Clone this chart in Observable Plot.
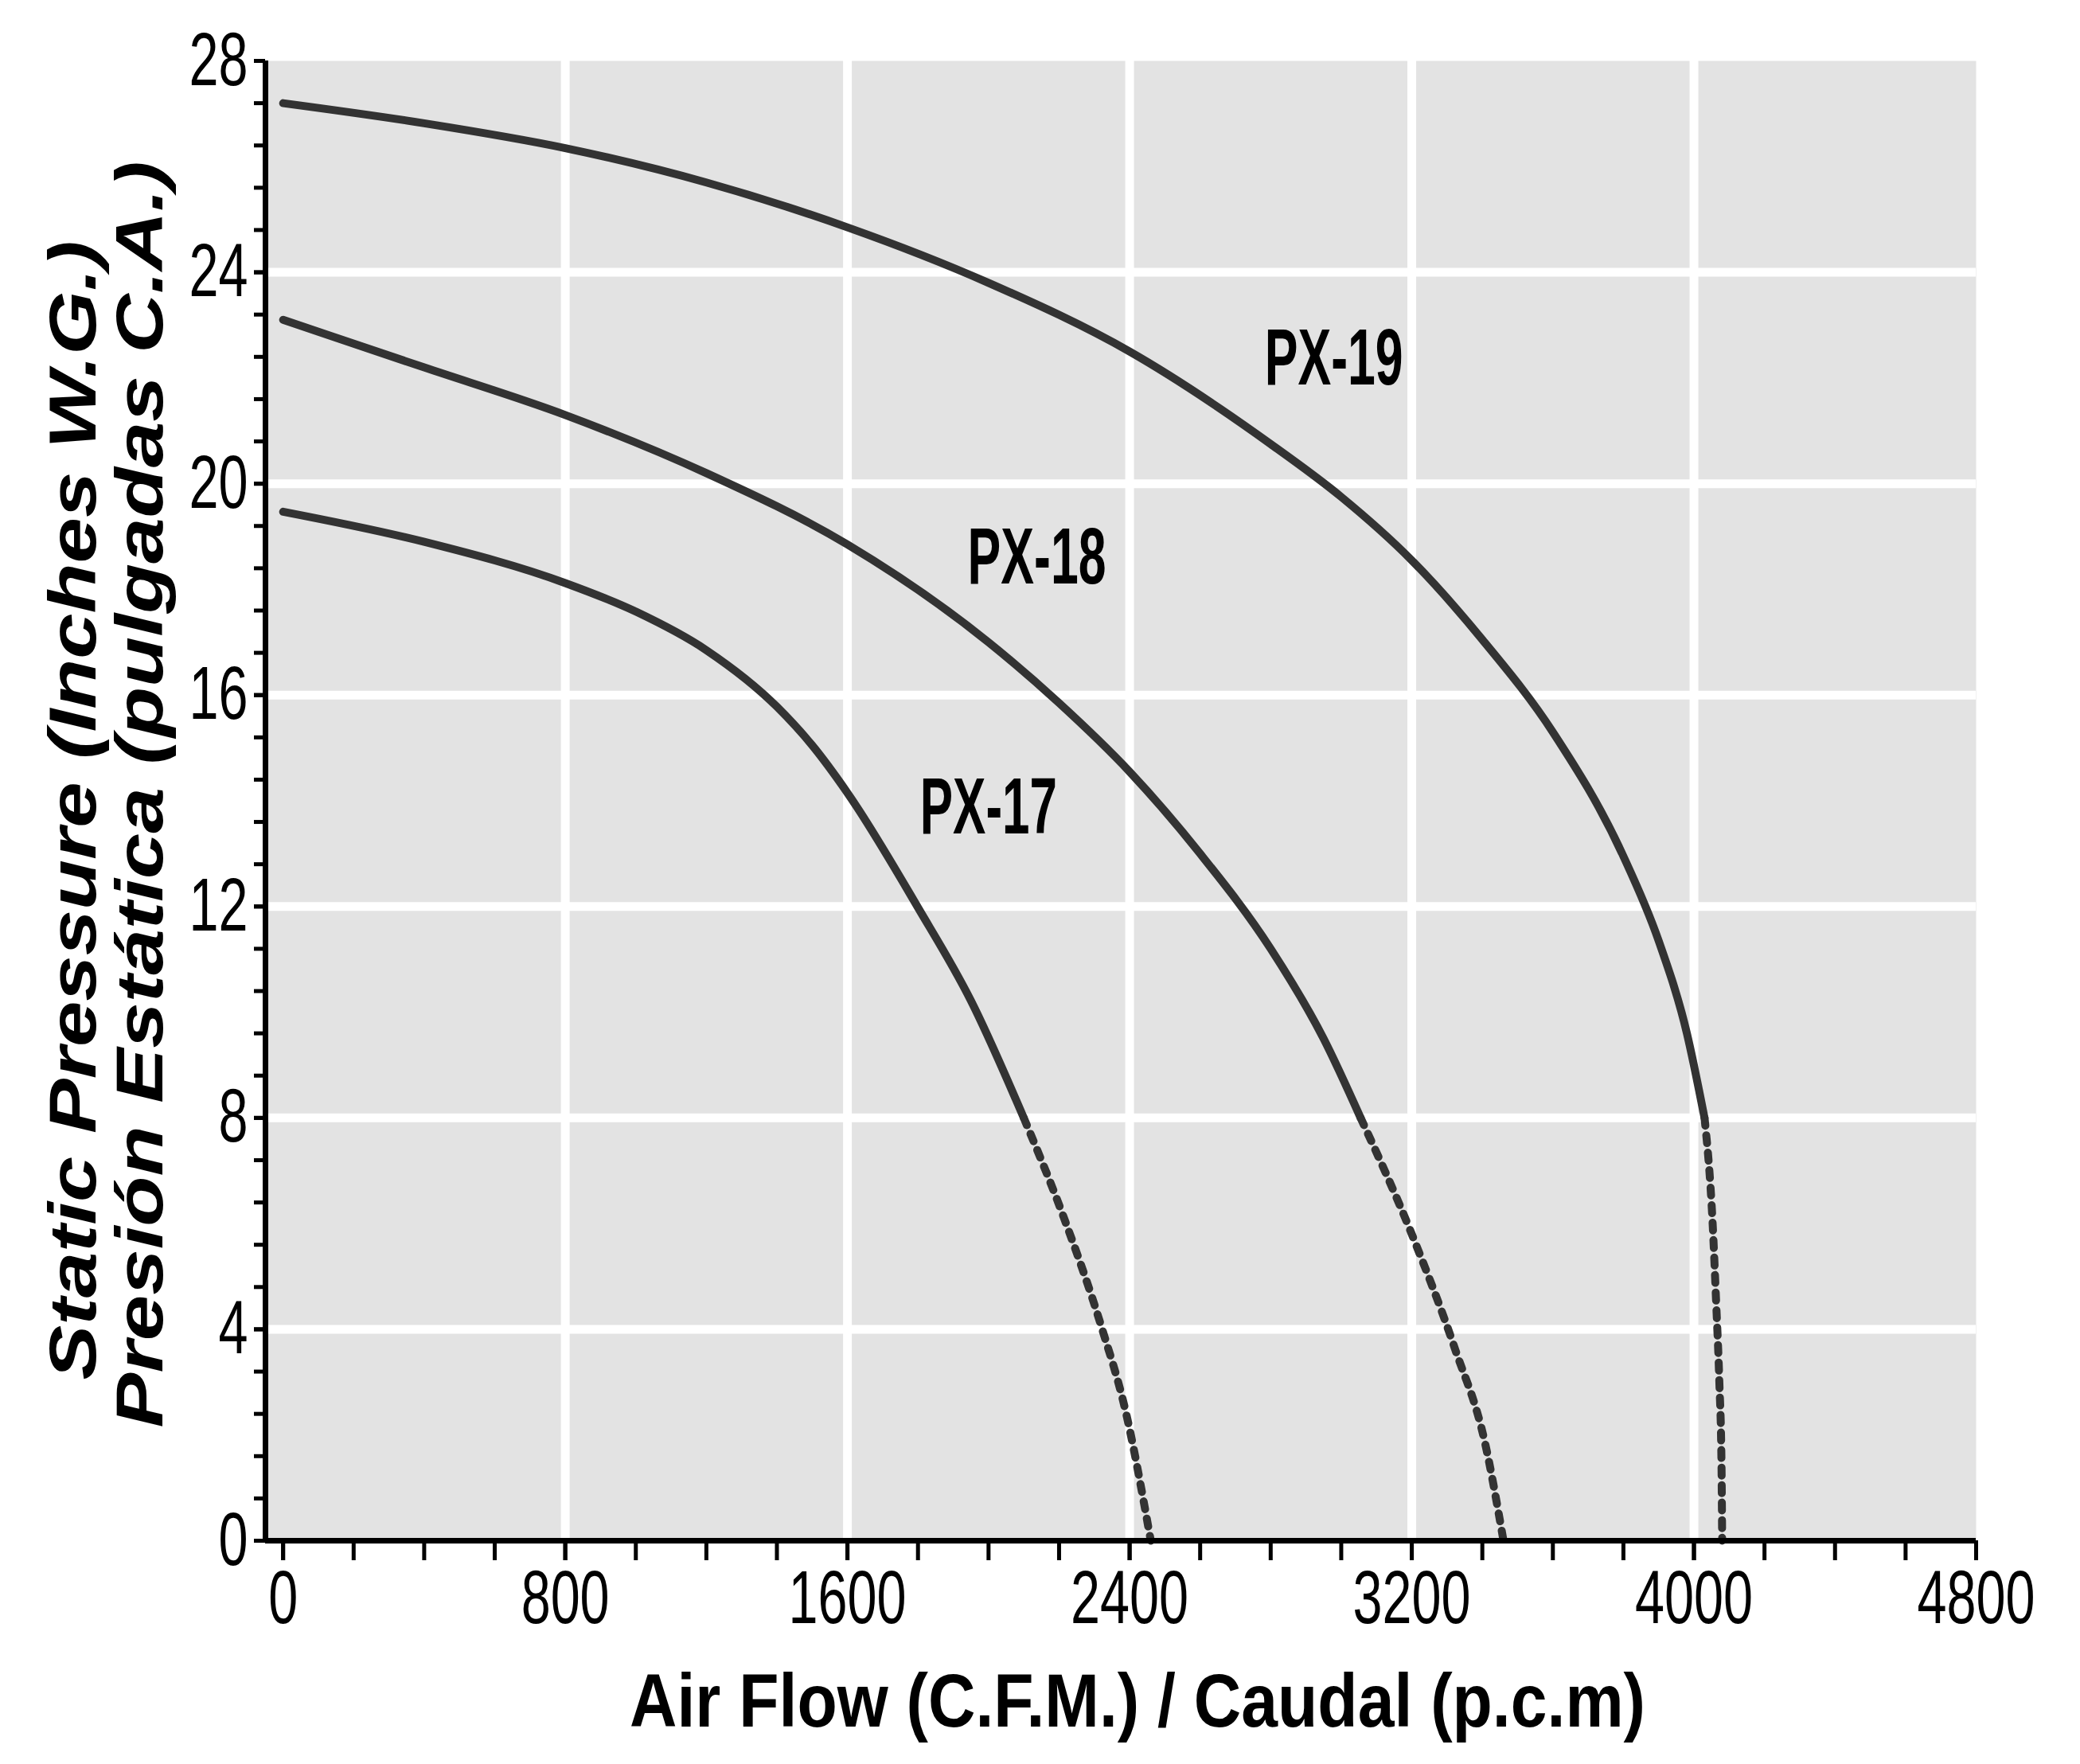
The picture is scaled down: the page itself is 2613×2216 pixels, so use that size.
<!DOCTYPE html>
<html><head><meta charset="utf-8">
<script src="https://cdn.jsdelivr.net/npm/d3@7"></script>
<script src="https://cdn.jsdelivr.net/npm/@observablehq/plot@0.6"></script>
<style>body{margin:0;background:#fff}</style>
</head><body><div id="chart"></div>
<script>
// ---- data ----
const models = ["PX-17", "PX-18", "PX-19"];
const px17Flow = [0, 400, 800, 1000, 1200, 1400, 1500, 1600, 1800, 1950, 2100, 2216, 2320, 2389, 2460];
const px17Pressure = [19.47, 18.9, 18.12, 17.58, 16.85, 15.78, 15.05, 14.15, 11.98, 10.22, 8.0, 6.07, 4.05, 2.44, 0];
const px18Flow = [0, 400, 800, 1200, 1600, 2000, 2200, 2400, 2600, 2800, 2950, 3055, 3200, 3322, 3408, 3460];
const px18Pressure = [23.1, 22.2, 21.3, 20.2, 18.85, 17.0, 15.85, 14.55, 13.0, 11.2, 9.5, 8.0, 5.8, 3.64, 1.84, 0];
const px19Flow = [0, 400, 800, 1200, 1600, 2000, 2400, 2800, 3000, 3200, 3400, 3600, 3800, 3900, 3980, 4030, 4053, 4063, 4072, 4078, 4080];
const px19Pressure = [27.2, 26.82, 26.35, 25.7, 24.85, 23.8, 22.5, 20.75, 19.75, 18.55, 17.05, 15.3, 12.95, 11.35, 9.6, 8.0, 6.0, 4.5, 3.0, 1.5, 0];
const dottedBelow = 8; // curves are dotted below this pressure
const labelFlow = [2000, 2137, 2979];
const labelPressure = [13.87, 18.6, 22.36];
const xTicks = [0, 800, 1600, 2400, 3200, 4000, 4800];
const xMinorTicks = d3.range(0, 4801, 200);
const yTicks = [0, 4, 8, 12, 16, 20, 24, 28];
const yMinorTicks = d3.range(0, 36).map(i => +(i * 0.8).toFixed(1));
const xGrid = [800, 1600, 2400, 3200, 4000];
const yGrid = [4, 8, 12, 16, 20, 24];
const xTitle = "Air Flow (C.F.M.) / Caudal (p.c.m)";
const yTitleEn = "Static Pressure (Inches W.G.)";
const yTitleEs = "Presión Estática (pulgadas C.A.)";

const series = [[px17Flow, px17Pressure], [px18Flow, px18Pressure], [px19Flow, px19Pressure]];
const rows = series.flatMap(([f, p], i) => f.map((v, j) => ({model: models[i], flow: v, pressure: p[j]})));
const solid = rows.filter(d => d.pressure >= dottedBelow);
const dotted = rows.filter(d => d.pressure <= dottedBelow);
const labels = models.map((m, i) => ({model: m, flow: labelFlow[i], pressure: labelPressure[i]}));

const FONT = "'Liberation Sans Narrow', 'Arial Narrow', 'Liberation Sans', Arial, sans-serif";
const INK = "#333333";

const svg = Plot.plot({
  width: 2613,
  height: 2216,
  marginLeft: 333,
  marginRight: 131,
  marginTop: 76,
  marginBottom: 281,
  style: {fontFamily: FONT, background: "#fff", color: "#000"},
  x: {domain: [-50, 4800]},
  y: {domain: [0, 28]},
  marks: [
    Plot.frame({fill: "#e3e3e3", stroke: null}),
    Plot.ruleX(xGrid, {stroke: "#fff", strokeWidth: 11}),
    Plot.ruleY(yGrid, {stroke: "#fff", strokeWidth: 11}),
    Plot.line(solid, {x: "flow", y: "pressure", z: "model", stroke: INK, strokeWidth: 10, curve: "monotone-x"}),
    Plot.line(dotted, {x: "flow", y: "pressure", z: "model", stroke: INK, strokeWidth: 10, curve: "monotone-x", strokeDasharray: "10,12"}),
    Plot.text(labels, {x: "flow", y: "pressure", text: "model", fontSize: 100, fontWeight: "bold", fill: "#000"}),
    Plot.axisY(yMinorTicks, {tickSize: 14, tickFormat: () => "", strokeWidth: 5, label: null}),
    Plot.axisY(yTicks, {tickSize: 14, tickPadding: 8, fontSize: 94, strokeWidth: 5, label: null, tickFormat: d => String(d)}),
    Plot.axisX(xMinorTicks, {tickSize: 25, tickFormat: () => "", strokeWidth: 5, label: null}),
    Plot.axisX(xTicks, {tickSize: 25, tickPadding: 12, fontSize: 94, strokeWidth: 5, label: null, tickFormat: d => String(d)}),
    Plot.ruleY([0], {stroke: "#000", strokeWidth: 7}),
    Plot.ruleX([-50], {stroke: "#000", strokeWidth: 7}),
    Plot.text([xTitle], {frameAnchor: "bottom", dx: 21, dy: 233, fontSize: 95, fontWeight: "bold", fill: "#000"}),
    Plot.text([yTitleEn], {frameAnchor: "left", textAnchor: "middle", dx: -240, dy: 12, rotate: -90, fontSize: 84, fontWeight: "bold", fontStyle: "italic", fill: "#000"}),
    Plot.text([yTitleEs], {frameAnchor: "left", textAnchor: "middle", dx: -156, dy: -8, rotate: -90, fontSize: 84, fontWeight: "bold", fontStyle: "italic", fill: "#000"})
  ]
});

const widths = {"PX-17": 172, "PX-18": 174, "PX-19": 174};
widths[xTitle] = 1276; widths[yTitleEn] = 1431; widths[yTitleEs] = 1591;
d3.select(svg).selectAll("text").each(function () {
  const t = this.textContent;
  let w = widths[t];
  if (w == null && /^\d+$/.test(t)) w = t.length * 37;
  if (w) { this.setAttribute("textLength", w); this.setAttribute("lengthAdjust", "spacingAndGlyphs"); }
});
document.getElementById("chart").appendChild(svg);
</script>
</body></html>
